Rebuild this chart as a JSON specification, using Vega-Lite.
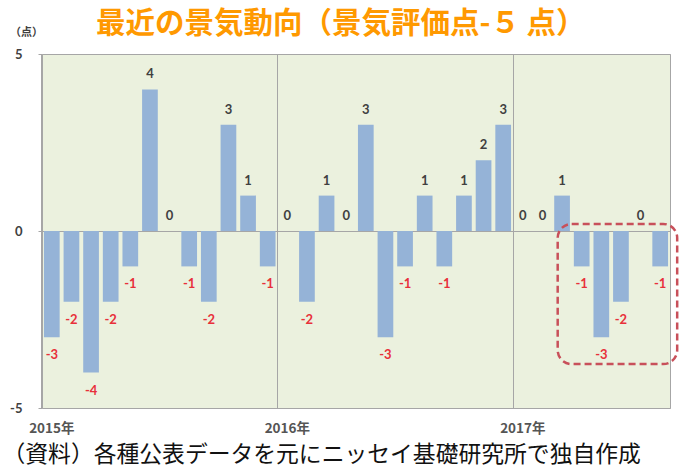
{
  "$schema": "https://vega.github.io/schema/vega-lite/v6.json",
  "autosize": {"type": "none"},
  "width": 628,
  "height": 354,
  "padding": {"left": 42, "top": 54, "right": 10, "bottom": 60},
  "background": "#ffffff",
  "title": {
    "text": "最近の景気動向（景気評価点-５ 点）",
    "font": "Noto Sans CJK JP",
    "fontSize": 29.5,
    "fontWeight": "bold",
    "color": "#FF9900",
    "anchor": "start",
    "dx": 94,
    "offset": -13
  },
  "config": {
    "view": {"fill": "#EBF1DE", "stroke": "#a6a6a6", "strokeWidth": 1}
  },
  "data": {
    "values": [
      {"m": "2015-01", "v": -3}, {"m": "2015-02", "v": -2}, {"m": "2015-03", "v": -4},
      {"m": "2015-04", "v": -2}, {"m": "2015-05", "v": -1}, {"m": "2015-06", "v": 4},
      {"m": "2015-07", "v": 0}, {"m": "2015-08", "v": -1}, {"m": "2015-09", "v": -2},
      {"m": "2015-10", "v": 3}, {"m": "2015-11", "v": 1}, {"m": "2015-12", "v": -1},
      {"m": "2016-01", "v": 0}, {"m": "2016-02", "v": -2}, {"m": "2016-03", "v": 1},
      {"m": "2016-04", "v": 0}, {"m": "2016-05", "v": 3}, {"m": "2016-06", "v": -3},
      {"m": "2016-07", "v": -1}, {"m": "2016-08", "v": 1}, {"m": "2016-09", "v": -1},
      {"m": "2016-10", "v": 1}, {"m": "2016-11", "v": 2}, {"m": "2016-12", "v": 3},
      {"m": "2017-01", "v": 0}, {"m": "2017-02", "v": 0}, {"m": "2017-03", "v": 1},
      {"m": "2017-04", "v": -1}, {"m": "2017-05", "v": -3}, {"m": "2017-06", "v": -2},
      {"m": "2017-07", "v": 0}, {"m": "2017-08", "v": -1}
    ]
  },
  "encoding": {
    "x": {
      "field": "m",
      "type": "ordinal",
      "scale": {"paddingInner": 0.2, "paddingOuter": 0.1},
      "axis": {
        "values": ["2015-01", "2016-01", "2017-01"],
        "labelExpr": "slice(datum.value, 0, 4) + '年'",
        "labelAngle": 0,
        "bandPosition": -0.125,
        "labelOffset": 0,
        "grid": true,
        "gridColor": "#a6a6a6",
        "gridWidth": 1,
        "domain": false,
        "ticks": false,
        "labelPadding": 13,
        "labelFont": "Noto Sans CJK JP",
        "labelFontSize": 13.5,
        "labelFontWeight": "bold",
        "labelColor": "#555555",
        "title": "（資料）各種公表データを元にニッセイ基礎研究所で独自作成",
        "titleFont": "Noto Sans CJK JP",
        "titleFontSize": 22.8,
        "titleFontWeight": "normal",
        "titleColor": "#111111",
        "titleAnchor": "start",
        "titleAlign": "left",
        "titleBaseline": "middle",
        "titleX": -40,
        "titleY": 46.5
      }
    },
    "y": {
      "field": "v",
      "type": "quantitative",
      "scale": {"domain": [-5, 5], "nice": false},
      "axis": {
        "values": [-5, 0, 5],
        "labelExpr": "datum.value + ''",
        "grid": true,
        "gridColor": "#a6a6a6",
        "domain": false,
        "tickSize": 4,
        "tickColor": "#a6a6a6",
        "labelPadding": 16,
        "labelFont": "Lato",
        "labelFontSize": 13,
        "labelFontWeight": "bold",
        "labelColor": "#404040",
        "title": "（点）",
        "titleAngle": 0,
        "titleFont": "Noto Sans CJK JP",
        "titleFontSize": 11,
        "titleFontWeight": "bold",
        "titleColor": "#404040",
        "titleAlign": "center",
        "titleBaseline": "middle",
        "titleX": -16,
        "titleY": -22
      }
    }
  },
  "layer": [
    {
      "mark": {"type": "bar", "color": "#95B3D7"}
    },
    {
      "transform": [{"filter": "datum.v >= 0"}],
      "mark": {"type": "text", "font": "Lato", "fontSize": 13, "fontWeight": "bold", "color": "#404040", "baseline": "middle", "dy": -15},
      "encoding": {"text": {"field": "v", "type": "nominal"}}
    },
    {
      "transform": [{"filter": "datum.v < 0"}],
      "mark": {"type": "text", "font": "Lato", "fontSize": 13, "fontWeight": "bold", "color": "#E8303A", "baseline": "middle", "dy": 18},
      "encoding": {"text": {"field": "v", "type": "nominal"}}
    },
    {
      "data": {"values": [{"from": "2017-04", "to": "2017-08", "top": 0.2, "bottom": -3.76}]},
      "mark": {"type": "rect", "fill": "transparent", "stroke": "#C8505A", "strokeWidth": 2.5, "strokeDash": [7, 4], "cornerRadius": 14, "xOffset": -24, "x2Offset": 17},
      "encoding": {
        "x": {"field": "from", "type": "ordinal", "bandPosition": 0.5},
        "x2": {"field": "to"},
        "y": {"field": "top", "type": "quantitative"},
        "y2": {"field": "bottom"}
      }
    }
  ]
}
